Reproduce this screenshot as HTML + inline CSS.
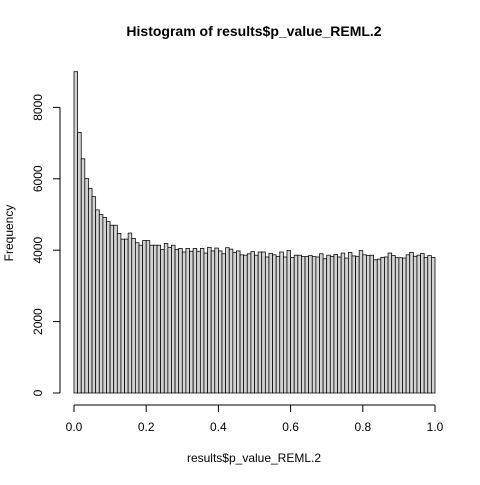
<!DOCTYPE html>
<html><head><meta charset="utf-8"><style>
body{margin:0;background:#fff;}
text{font-family:"Liberation Sans",sans-serif;}
</style></head><body>
<svg id="chart" width="480" height="480">
<text x="254" y="36" text-anchor="middle" font-size="14" font-weight="bold">Histogram of results$p_value_REML.2</text>
<text x="254" y="462" text-anchor="middle" font-size="12">results$p_value_REML.2</text>
<text x="13" y="233" text-anchor="middle" font-size="12" transform="rotate(-90 13 233)">Frequency</text>
<g id="bars"></g>
<g id="xaxis"></g>
<g id="yaxis"></g>
</svg>
<script>
const counts=[9000,7300,6560,6010,5730,5500,5130,5000,4920,4800,4700,4700,4470,4310,4310,4480,4330,4210,4140,4270,4270,4140,4140,4140,4020,4190,4080,4140,4020,4050,3950,4050,3970,4050,3970,4050,3920,4080,3980,4060,3980,3900,4070,4030,3940,3980,3870,3860,3900,3960,3860,3950,3950,3810,3910,3870,3820,3950,3810,3990,3800,3860,3860,3820,3820,3850,3820,3810,3900,3760,3860,3820,3880,3810,3920,3780,3940,3840,3830,3990,3870,3850,3860,3730,3750,3800,3810,3920,3850,3790,3790,3780,3870,3940,3830,3860,3910,3800,3850,3800];
const xTicks=[0,0.2,0.4,0.6,0.8,1.0];
const xTickLabels=["0.0","0.2","0.4","0.6","0.8","1.0"];
const yTicks=[0,2000,4000,6000,8000];
const ns="http://www.w3.org/2000/svg";
const x=v=>74+v*361;
const y=v=>393-v*(285.6/8000);
const bars=document.getElementById('bars');
const n=counts.length;
counts.forEach((c,i)=>{
const r=document.createElementNS(ns,'rect');


r.setAttribute('x',x(i/n));r.setAttribute('y',y(c));
r.setAttribute('width',x((i+1)/n)-x(i/n));r.setAttribute('height',y(0)-y(c));
r.setAttribute('fill','#d3d3d3');r.setAttribute('stroke','#000');r.setAttribute('stroke-width','0.75');
bars.appendChild(r);});
const xa=document.getElementById('xaxis');
function line(g,x1,y1,x2,y2){const l=document.createElementNS(ns,'line');l.setAttribute('x1',x1);l.setAttribute('y1',y1);l.setAttribute('x2',x2);l.setAttribute('y2',y2);l.setAttribute('stroke','#000');g.appendChild(l);}
line(xa,x(0),405,x(1),405);
xTicks.forEach((t,i)=>{line(xa,x(t),405,x(t),412);
const tx=document.createElementNS(ns,'text');


tx.setAttribute('x',x(t));tx.setAttribute('y',431);tx.setAttribute('text-anchor','middle');tx.setAttribute('font-size','12');tx.textContent=xTickLabels[i];xa.appendChild(tx);});
const ya=document.getElementById('yaxis');
line(ya,60,y(0),60,y(8000));
yTicks.forEach(t=>{line(ya,53,y(t),60,y(t));
const tx=document.createElementNS(ns,'text');


tx.setAttribute('x',42);tx.setAttribute('y',y(t));tx.setAttribute('text-anchor','middle');tx.setAttribute('font-size','12');tx.setAttribute('transform','rotate(-90 42 '+y(t)+')');tx.textContent=t;ya.appendChild(tx);});
</script>
</body></html>
